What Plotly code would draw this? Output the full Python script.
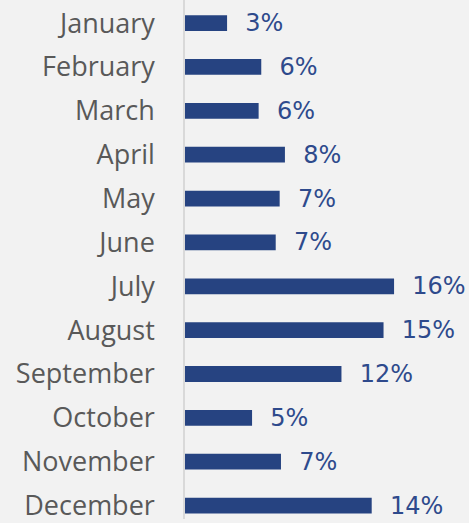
import plotly.graph_objects as go

months = ["January", "February", "March", "April", "May", "June", "July",
          "August", "September", "October", "November", "December"]
shares = [3.2, 5.8, 5.6, 7.6, 7.2, 6.9, 15.9, 15.1, 11.9, 5.1, 7.3, 14.2]

fig = go.Figure(go.Bar(
    y=months, x=shares, orientation="h",
    marker=dict(color="#264381", line=dict(width=0)),
    width=0.36,
    texttemplate="\u00a0\u00a0%{x:.0f}%", textposition="outside",
    constraintext="none",
    textfont=dict(family="DejaVu Sans", size=24, color="#2E4A8C"),
    cliponaxis=False,
))

fig.update_layout(
    width=469, height=523,
    margin=dict(l=185, r=0, t=0, b=0),
    paper_bgcolor="#F2F2F2", plot_bgcolor="#F2F2F2",
    showlegend=False,
    xaxis=dict(range=[0, 21.6], visible=False, showgrid=False, zeroline=False),
    yaxis=dict(
        type="category", range=[11.306, -0.527],
        showline=True, linecolor="#D9D9D9", linewidth=1.5,
        showgrid=False, zeroline=False, ticks="",
        ticklabelstandoff=23,
        tickfont=dict(family="Open Sans, Noto Sans", size=27, color="#595959"),
    ),
)

fig.write_html(
    "out.html",
    config={"displayModeBar": False},
    post_script="document.body.style.margin='0';document.body.style.background='#F2F2F2';",
)
